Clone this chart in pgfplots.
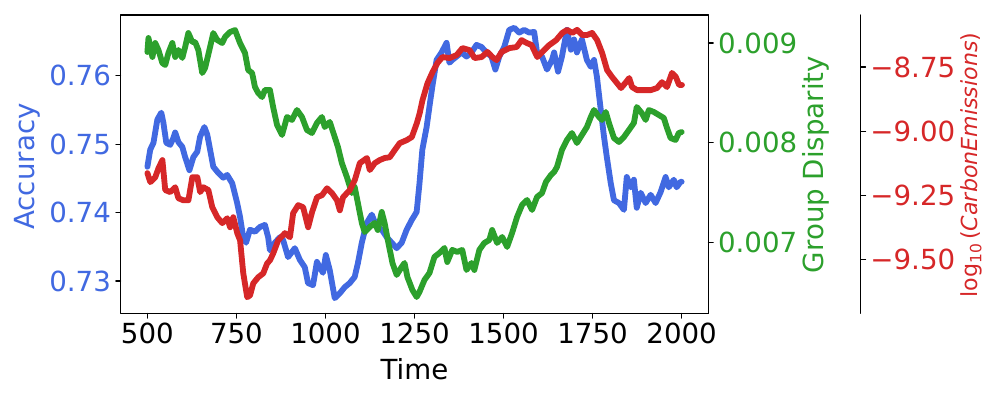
\documentclass[border=0pt]{standalone}
\usepackage{pgfplots}
\pgfplotsset{compat=1.18}
\usepackage{fontspec}
\setmainfont{DejaVu Sans}
\definecolor{cblue}{RGB}{65,105,225}
\definecolor{cgreen}{RGB}{44,160,44}
\definecolor{cred}{RGB}{214,39,40}
\pgfplotsset{
  common/.style={
    at={(0,0)}, anchor=south west, scale only axis,
    height=214.8bp, xmin=425, ymin=0, 
    tick align=outside, major tick length=3.5bp,
    every tick/.style={black, line width=0.8bp},
    axis line style={black, line width=0.8bp},
    tick label style={font=\fontsize{20}{24}\selectfont},
    label style={font=\fontsize{20}{24}\selectfont},
    line join=round, line cap=round,
  },
}
\begin{document}
\begin{tikzpicture}
\path[use as bounding box] (-86.9bp,-62.4bp) rectangle (633.1bp,225.6bp);
% ---- Accuracy (left) ----
\begin{axis}[common,
  width=423.1bp,
  xmin=425, xmax=2075, ymin=0.72528, ymax=0.76887,
  tick pos=left,
  xtick={500,750,1000,1250,1500,1750,2000},
  xticklabels={500,750,1000,1250,1500,1750,2000},
  ytick={0.73,0.74,0.75,0.76},
  yticklabels={0.73,0.74,0.75,0.76},
  yticklabel style={text=cblue},
  xlabel={Time},
  xlabel style={at={(axis description cs:0.5,-0.187)}, anchor=center},
  ylabel={Accuracy},
  ylabel style={at={(axis description cs:-0.1586,0.492)}, anchor=center, text=cblue},
]
\addplot[cblue, line width=4.2bp] coordinates {
(500,0.7467) (508,0.7492) (517,0.7502) (528,0.7536) (539,0.7546) (545,0.7531) (553,0.7502) (564,0.7499) (573,0.7509) (578,0.7517) (587,0.7503) (598,0.7496) (606,0.7481) (618,0.7462) (629,0.7481) (640,0.7489) (648,0.7511) (660,0.7525) (668,0.7514) (676,0.7492) (685,0.7467) (699,0.7458) (713,0.7451) (724,0.7455) (738,0.7443) (752,0.7414) (760,0.7394) (769,0.7364) (777,0.7356) (788,0.7375) (802,0.7372) (816,0.7379) (830,0.7382) (839,0.7364) (844,0.7345) (858,0.7356) (872,0.7364) (881,0.7360) (895,0.7335) (914,0.7348) (928,0.7331) (942,0.7320) (951,0.7297) (965,0.7294) (976,0.7328) (984,0.7320) (993,0.7312) (1001,0.7338) (1012,0.7316) (1026,0.7275) (1040,0.7282) (1054,0.7291) (1068,0.7297) (1082,0.7306) (1091,0.7326) (1102,0.7356) (1116,0.7385) (1130,0.7397) (1144,0.7379) (1158,0.7375) (1172,0.7364) (1186,0.7356) (1200,0.7348) (1214,0.7356) (1228,0.7375) (1242,0.7389) (1256,0.7401) (1264,0.7443) (1272,0.7492) (1284,0.7525) (1292,0.7555) (1300,0.7584) (1312,0.7623) (1326,0.7634) (1340,0.7648) (1348,0.7619) (1356,0.7623) (1368,0.7628) (1382,0.7634) (1396,0.7628) (1410,0.7634) (1424,0.7645) (1438,0.7642) (1452,0.7634) (1466,0.7628) (1477,0.7609) (1488,0.7628) (1502,0.7642) (1516,0.7667) (1530,0.7670) (1544,0.7663) (1558,0.7667) (1572,0.7663) (1586,0.7664) (1594,0.7634) (1608,0.7628) (1622,0.7609) (1636,0.7623) (1642,0.7634) (1653,0.7606) (1664,0.7628) (1678,0.7667) (1689,0.7638) (1698,0.7653) (1706,0.7634) (1720,0.7653) (1734,0.7623) (1745,0.7613) (1754,0.7623) (1762,0.7599) (1773,0.7550) (1782,0.7511) (1790,0.7481) (1801,0.7443) (1810,0.7418) (1824,0.7414) (1838,0.7404) (1846,0.7452) (1857,0.7437) (1866,0.7448) (1874,0.7407) (1885,0.7429) (1899,0.7414) (1913,0.7426) (1927,0.7414) (1941,0.7430) (1955,0.7452) (1964,0.7437) (1978,0.7448) (1986,0.7437) (1997,0.7445) (2000,0.7445)
};
\end{axis}
% ---- Group Disparity (right) ----
\begin{axis}[common,
  width=423.1bp,
  xmin=425, xmax=2075, ymin=0.006288, ymax=0.009281,
  axis y line*=right, hide x axis,
  ytick={0.007,0.008,0.009},
  yticklabels={0.007,0.008,0.009},
  scaled y ticks=false,
  yticklabel style={text=cgreen},
  ylabel={Group Disparity},
  ylabel style={at={(axis description cs:1.183,0.499)}, anchor=center, rotate=0, text=cgreen},
]
\addplot[cgreen, line width=4.2bp] coordinates {
(500,0.008910) (503,0.009050) (514,0.008860) (522,0.009000) (531,0.008930) (542,0.008799) (550,0.008779) (559,0.008900) (570,0.009000) (578,0.008860) (587,0.008930) (598,0.008850) (606,0.008960) (615,0.009100) (626,0.009010) (634,0.009010) (643,0.008930) (654,0.008699) (662,0.008749) (676,0.008960) (685,0.009100) (696,0.009030) (710,0.009000) (718,0.009060) (732,0.009110) (746,0.009130) (760,0.009000) (774,0.008900) (783,0.008729) (794,0.008699) (802,0.008559) (811,0.008499) (822,0.008458) (830,0.008529) (844,0.008529) (853,0.008358) (864,0.008178) (878,0.008077) (892,0.008258) (906,0.008228) (920,0.008328) (934,0.008258) (948,0.008127) (962,0.008097) (976,0.008198) (990,0.008258) (998,0.008157) (1012,0.008208) (1026,0.008057) (1035,0.007957) (1046,0.007796) (1060,0.007656) (1074,0.007495) (1082,0.007556) (1091,0.007395) (1102,0.007195) (1110,0.007104) (1124,0.007154) (1138,0.007195) (1147,0.007124) (1158,0.007305) (1166,0.007195) (1175,0.007024) (1188,0.006793) (1200,0.006673) (1214,0.006753) (1222,0.006793) (1230,0.006653) (1244,0.006523) (1256,0.006452) (1264,0.006503) (1278,0.006623) (1292,0.006693) (1306,0.006854) (1320,0.006894) (1334,0.006944) (1342,0.006803) (1356,0.006924) (1370,0.006904) (1384,0.006924) (1396,0.006723) (1410,0.006793) (1418,0.006723) (1432,0.006924) (1446,0.006994) (1460,0.007024) (1468,0.007124) (1482,0.006994) (1496,0.007054) (1510,0.006954) (1524,0.007094) (1538,0.007255) (1552,0.007375) (1566,0.007425) (1580,0.007325) (1594,0.007455) (1608,0.007495) (1619,0.007606) (1633,0.007676) (1642,0.007706) (1650,0.007756) (1664,0.007927) (1678,0.008027) (1692,0.008097) (1706,0.007997) (1720,0.008077) (1734,0.008157) (1745,0.008258) (1754,0.008328) (1768,0.008258) (1776,0.008228) (1787,0.008308) (1796,0.008198) (1810,0.008047) (1824,0.008007) (1838,0.008057) (1852,0.008127) (1866,0.008198) (1874,0.008358) (1888,0.008298) (1899,0.008228) (1908,0.008328) (1922,0.008308) (1936,0.008278) (1950,0.008248) (1958,0.008157) (1969,0.008047) (1983,0.008027) (1992,0.008097) (2000,0.008107)
};
\end{axis}
% ---- log10 Carbon Emissions (offset right) ----
\begin{axis}[common,
  width=532.8bp,
  xmin=425, xmax=2501.6, ymin=-9.711, ymax=-8.547,
  axis y line*=right, hide x axis,
  ytick={-9.5,-9.25,-9,-8.75},
  yticklabels={−9.50,−9.25,−9.00,−8.75},
  yticklabel style={text=cred},
  ylabel={log\textsubscript{10}\,(\textit{CarbonEmissions})},
  ylabel style={at={(axis description cs:1.150,0.497)}, anchor=center, rotate=0, text=cred, font=\fontsize{16}{19}\selectfont},
]
\addplot[cred, line width=4.2bp] coordinates {
(500,-9.164) (508,-9.199) (522,-9.180) (531,-9.145) (542,-9.113) (550,-9.230) (564,-9.238) (578,-9.219) (587,-9.262) (601,-9.270) (615,-9.270) (626,-9.180) (640,-9.180) (648,-9.238) (657,-9.219) (671,-9.230) (682,-9.297) (696,-9.336) (710,-9.359) (724,-9.340) (732,-9.375) (741,-9.336) (752,-9.398) (760,-9.426) (769,-9.555) (780,-9.648) (788,-9.641) (797,-9.594) (811,-9.570) (825,-9.555) (836,-9.516) (844,-9.504) (853,-9.477) (867,-9.426) (886,-9.398) (900,-9.414) (909,-9.320) (923,-9.289) (937,-9.297) (951,-9.375) (962,-9.316) (976,-9.258) (990,-9.250) (1004,-9.223) (1018,-9.242) (1032,-9.270) (1040,-9.309) (1049,-9.258) (1068,-9.230) (1082,-9.191) (1096,-9.125) (1116,-9.105) (1124,-9.152) (1138,-9.125) (1152,-9.113) (1166,-9.105) (1180,-9.102) (1194,-9.074) (1208,-9.047) (1228,-9.035) (1242,-9.023) (1256,-8.969) (1264,-8.930) (1272,-8.879) (1286,-8.813) (1300,-8.770) (1314,-8.734) (1328,-8.711) (1348,-8.715) (1368,-8.703) (1384,-8.676) (1404,-8.684) (1418,-8.715) (1438,-8.711) (1454,-8.691) (1468,-8.711) (1480,-8.723) (1494,-8.691) (1516,-8.676) (1536,-8.672) (1550,-8.645) (1564,-8.656) (1578,-8.664) (1594,-8.711) (1608,-8.691) (1628,-8.664) (1647,-8.645) (1664,-8.617) (1678,-8.605) (1692,-8.617) (1706,-8.605) (1720,-8.625) (1734,-8.625) (1748,-8.617) (1762,-8.645) (1776,-8.695) (1790,-8.762) (1804,-8.789) (1818,-8.813) (1829,-8.832) (1843,-8.809) (1852,-8.793) (1860,-8.828) (1874,-8.840) (1894,-8.840) (1913,-8.840) (1930,-8.832) (1944,-8.809) (1958,-8.828) (1972,-8.773) (1983,-8.789) (1992,-8.820) (2000,-8.820)
};
\end{axis}
\end{tikzpicture}
\end{document}
